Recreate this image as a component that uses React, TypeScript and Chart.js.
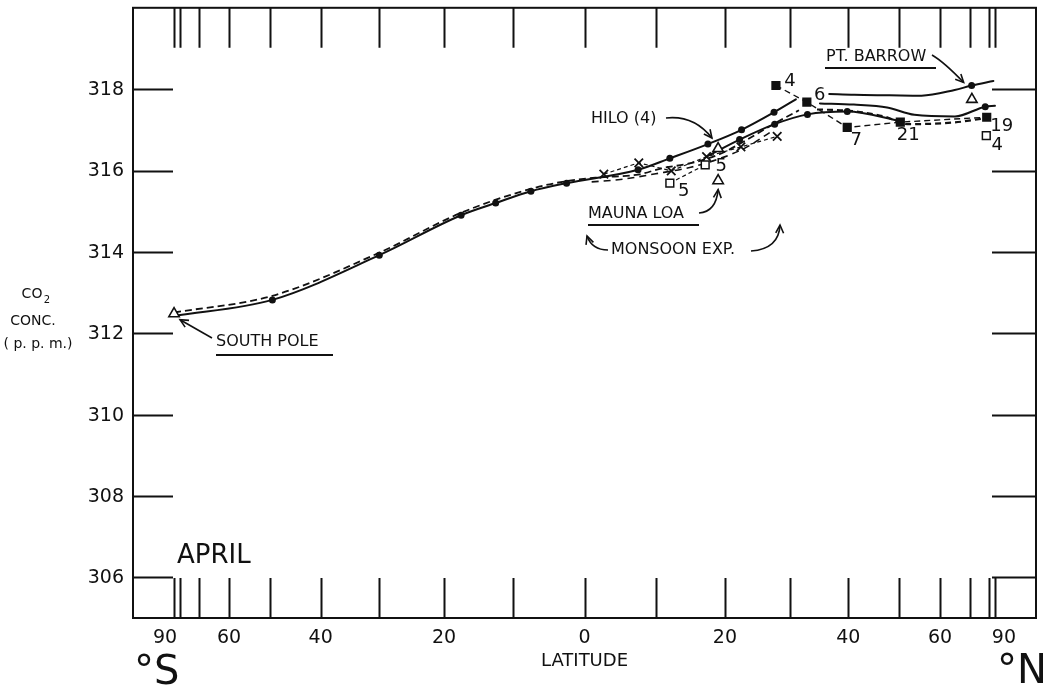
import React, { useEffect, useRef } from "react";
import { Chart, registerables } from "chart.js";

Chart.register(...registerables);

const FONT = '"DejaVu Sans", "Liberation Sans", sans-serif';
const INK = "#111";

// Latitude in degrees (south negative), CO2 concentration in p.p.m.
// Main meridional profile, South Pole to about 31 N
const profileLat = [-90, -49.5, -30, -17.5, -12.5, -7.5, -2.5, 7.5, 12, 17.5, 22.5, 27.5, 31];
const profileCO2 = [312.43, 312.82, 313.92, 314.9, 315.2, 315.49, 315.69, 316.02, 316.3, 316.65, 317.0, 317.43, 317.75];
const profileDot = [0, 1, 1, 1, 1, 1, 1, 1, 1, 1, 1, 1, 0];

// Its continuation over the northern mid and high latitudes
const northLat = [35, 41, 47.5, 53.5, 64.5, 77.5, 90];
const northCO2 = [317.65, 317.62, 317.55, 317.37, 317.33, 317.57, 317.59];
const northDot = [0, 0, 0, 0, 0, 1, 0];

// Lower solid profile, northern subtropics
const lowerLat = [17.4, 22.2, 27.6, 32.9, 39.8, 50.5];
const lowerCO2 = [316.35, 316.76, 317.14, 317.38, 317.45, 317.21];
const lowerDot = [0, 1, 1, 1, 1, 0];

// Pt. Barrow curve
const barrowLat = [36.6, 41.1, 48, 55.2, 64.4, 70.6, 85];
const barrowCO2 = [317.88, 317.86, 317.85, 317.84, 317.98, 318.09, 318.2];
const barrowDot = [0, 0, 0, 0, 0, 1, 0];

// Dashed ship profile (southern part and its two northern pieces)
const shipLat = [-90, -49.5, -30, -17.5, -7.5, -2.5, 2, 7.5, 11, 15, 19.2, 22.7, 27.5, 31.5];
const shipCO2 = [312.51, 312.92, 313.98, 314.96, 315.55, 315.74, 315.83, 315.9, 316.06, 316.18, 316.4, 316.7, 317.15, 317.48];
const ship2Lat = [1, 5, 10, 15, 19, 23, 27];
const ship2CO2 = [315.72, 315.78, 315.92, 316.08, 316.28, 316.55, 316.95];
const shipNorthLat = [34.5, 40, 46.9, 51.8, 64, 75.2];
const shipNorthCO2 = [317.5, 317.47, 317.33, 317.14, 317.18, 317.27];

// Monsoon expedition (crosses)
const monsoonLat = [2.7, 7.6, 12.2, 17.3, 22.4, 28.0];
const monsoonCO2 = [315.91, 316.19, 315.99, 316.34, 316.58, 316.84];

// Open squares with sample counts
const openSqLat = [12.0, 17.1, null, 78.2];
const openSqCO2 = [315.69, 316.14, null, 316.86];
const openSqN = ["5", "5", "", "4"];

// Filled squares with sample counts
const fillSqLat = [27.8, 32.8, 39.8, 50.3, 78.5];
const fillSqCO2 = [318.09, 317.68, 317.06, 317.19, 317.31];
const fillSqN = ["4", "6", "7", "21", "19"];

// Station values: South Pole, Hilo, Mauna Loa, Pt. Barrow
const stationLat = [-90, 19, 19, 70.7];
const stationCO2 = [312.48, 316.54, 315.75, 317.75];

const yTicks = [306, 308, 310, 312, 314, 316, 318];
const latTicks = [-90, -80, -70, -60, -50, -40, -30, -20, -10, 0, 10, 20, 30, 40, 50, 60, 70, 80, 90];
const latLabels = [-90, -60, -40, -20, 0, 20, 40, 60, 90];

const sinLat = (d: number) => Math.sin((d * Math.PI) / 180);
const toPoints = (lats: (number | null)[], vals: (number | null)[]) =>
  lats.map((l, i) => ({ x: l == null ? null : sinLat(l), y: vals[i] })) as any[];

function arrowHead(ctx: CanvasRenderingContext2D, fx: number, fy: number, x: number, y: number) {
  const a = Math.atan2(y - fy, x - fx);
  const L = 9;
  const s = 0.45;
  ctx.beginPath();
  ctx.moveTo(x - L * Math.cos(a - s), y - L * Math.sin(a - s));
  ctx.lineTo(x, y);
  ctx.lineTo(x - L * Math.cos(a + s), y - L * Math.sin(a + s));
  ctx.stroke();
}

function curvedArrow(ctx: CanvasRenderingContext2D, x0: number, y0: number, cx: number, cy: number, x1: number, y1: number) {
  ctx.beginPath();
  ctx.moveTo(x0, y0);
  ctx.quadraticCurveTo(cx, cy, x1, y1);
  ctx.stroke();
  arrowHead(ctx, cx, cy, x1, y1);
}

const framePlugin = {
  id: "frame",
  beforeDatasetsDraw(chart: any) {
    const { ctx, chartArea: a, scales } = chart;
    const xs = scales.x;
    const ys = scales.y;
    ctx.save();
    ctx.strokeStyle = INK;
    ctx.lineWidth = 2;
    ctx.strokeRect(a.left, a.top, a.right - a.left, a.bottom - a.top);
    const T = 40;
    ctx.beginPath();
    for (const v of yTicks) {
      const y = Math.round(ys.getPixelForValue(v)) + 0.5;
      ctx.moveTo(a.left, y);
      ctx.lineTo(a.left + T, y);
      ctx.moveTo(a.right - T - 4, y);
      ctx.lineTo(a.right, y);
    }
    for (const d of latTicks) {
      const x = Math.round(xs.getPixelForValue(sinLat(d))) + 0.5;
      ctx.moveTo(x, a.top);
      ctx.lineTo(x, a.top + T);
      ctx.moveTo(x, a.bottom - T);
      ctx.lineTo(x, a.bottom);
    }
    ctx.stroke();
    ctx.restore();
  },
  afterDraw(chart: any) {
    const { ctx, chartArea: a, scales } = chart;
    const xs = scales.x;
    const ys = scales.y;
    const px = (lat: number) => xs.getPixelForValue(sinLat(lat));
    const py = (v: number) => ys.getPixelForValue(v);
    ctx.save();
    ctx.fillStyle = INK;
    ctx.strokeStyle = INK;

    // y tick labels
    ctx.font = `19px ${FONT}`;
    ctx.textAlign = "right";
    ctx.textBaseline = "middle";
    for (const v of yTicks) ctx.fillText(String(v), a.left - 9, py(v) + 1);

    // latitude labels
    ctx.textAlign = "center";
    for (const d of latLabels) {
      const shift = d === -90 ? -9 : d === 90 ? 9 : 0;
      ctx.fillText(String(Math.abs(d)), px(d) + shift, a.bottom + 20);
    }
    ctx.font = `18px ${FONT}`;
    ctx.fillText("LATITUDE", px(0), a.bottom + 43);
    ctx.font = `40px ${FONT}`;
    ctx.textAlign = "left";
    ctx.fillText("°S", 134, a.bottom + 56);
    ctx.textAlign = "right";
    ctx.fillText("°N", 1047, a.bottom + 55);

    // y title
    ctx.textAlign = "center";
    ctx.font = `14px ${FONT}`;
    ctx.fillText("CO", 32, 294);
    ctx.font = `10px ${FONT}`;
    ctx.fillText("2", 47, 300);
    ctx.font = `14px ${FONT}`;
    ctx.fillText("CONC.", 33, 321);
    ctx.fillText("( p. p. m.)", 38, 344);

    // month
    ctx.font = `26px ${FONT}`;
    ctx.textAlign = "left";
    ctx.fillText("APRIL", 177, 556);

    // sample counts beside squares
    ctx.font = `18px ${FONT}`;
    ctx.textAlign = "center";
    const fillOff = [[14, -4], [13, -7], [9, 13], [8, 13], [15, 9]];
    fillSqLat.forEach((l, i) => {
      ctx.fillText(fillSqN[i], px(l) + fillOff[i][0], py(fillSqCO2[i]) + fillOff[i][1]);
    });
    const openOff = [[14, 8], [16, 2], [0, 0], [11, 10]];
    openSqLat.forEach((l, i) => {
      if (l == null) return;
      ctx.fillText(openSqN[i], px(l) + openOff[i][0], py(openSqCO2[i] as number) + openOff[i][1]);
    });

    // station annotations
    ctx.font = `16px ${FONT}`;
    ctx.textAlign = "left";
    ctx.lineWidth = 1.6;
    // South Pole
    ctx.fillText("SOUTH POLE", 216, 342);
    ctx.fillRect(216, 354, 117, 2);
    ctx.beginPath();
    ctx.moveTo(212, 338);
    ctx.lineTo(px(-90) + 6, py(312.48) + 6);
    ctx.stroke();
    arrowHead(ctx, 212, 338, px(-90) + 6, py(312.48) + 6);
    // Hilo
    ctx.fillText("HILO (4)", 591, 119);
    curvedArrow(ctx, 666, 118, 694, 115, px(17.5) + 4, py(316.65) - 6);
    // Mauna Loa
    ctx.fillText("MAUNA LOA", 588, 214);
    ctx.fillRect(588, 224, 111, 2);
    curvedArrow(ctx, 699, 213, 716, 212, px(19), py(315.75) + 9);
    // Monsoon expedition
    ctx.fillText("MONSOON EXP.", 611, 250);
    curvedArrow(ctx, 608, 250, 592, 250, 587, 236);
    curvedArrow(ctx, 751, 251, 779, 249, 780, 225);
    // Pt. Barrow
    ctx.fillText("PT. BARROW", 826, 57);
    ctx.fillRect(825, 67, 111, 2);
    curvedArrow(ctx, 932, 55, 944, 62, px(70.6) - 8, py(318.09) - 3);
    ctx.restore();
  },
};

export default function App() {
  const ref = useRef<HTMLCanvasElement>(null);

  useEffect(() => {
    const canvas = ref.current;
    if (!canvas) return;
    document.body.style.margin = "0";

    const dots = (flags: number[], r: number) => flags.map((f) => (f ? r : 0));
    const solid = (data: any[], radii: number[], order: number) => ({
      data,
      borderColor: INK,
      backgroundColor: INK,
      borderWidth: 2,
      pointRadius: radii,
      pointBorderWidth: 0,
      pointBackgroundColor: INK,
      pointStyle: "circle",
      cubicInterpolationMode: "monotone",
      borderCapStyle: "round",
      order,
    });
    const dashed = (data: any[], dash: number[], width: number, order: number) => ({
      data,
      borderColor: INK,
      borderWidth: width,
      borderDash: dash,
      pointRadius: 0,
      cubicInterpolationMode: "monotone",
      order,
    });

    const chart = new Chart(canvas, {
      type: "line",
      data: {
        datasets: [
          {
            data: toPoints(stationLat, stationCO2),
            showLine: false,
            pointStyle: "triangle",
            pointRadius: 6,
            pointBorderWidth: 1.6,
            pointBorderColor: INK,
            pointBackgroundColor: "#fff",
            order: 0,
          },
          {
            data: toPoints(fillSqLat, fillSqCO2),
            borderColor: INK,
            borderWidth: 1.4,
            borderDash: [6, 4],
            tension: 0,
            pointStyle: "rect",
            pointRadius: 6.5,
            pointBorderWidth: 0,
            pointBackgroundColor: INK,
            order: 0,
          },
          {
            data: toPoints(openSqLat, openSqCO2),
            borderColor: INK,
            borderWidth: 1.2,
            borderDash: [4, 3],
            tension: 0,
            spanGaps: false,
            pointStyle: "rect",
            pointRadius: 5.5,
            pointBorderWidth: 1.5,
            pointBorderColor: INK,
            pointBackgroundColor: "#fff",
            order: 0,
          },
          {
            data: toPoints(monsoonLat, monsoonCO2),
            borderColor: INK,
            borderWidth: 1.2,
            borderDash: [4, 3],
            tension: 0,
            pointStyle: "crossRot",
            pointRadius: 6,
            pointBorderWidth: 1.8,
            pointBorderColor: INK,
            order: 0,
          },
          solid(toPoints(profileLat, profileCO2), dots(profileDot, 3.5), 1),
          solid(toPoints(northLat, northCO2), dots(northDot, 3.5), 1),
          solid(toPoints(lowerLat, lowerCO2), dots(lowerDot, 3.5), 1),
          solid(toPoints(barrowLat, barrowCO2), dots(barrowDot, 3.5), 1),
          dashed(toPoints(shipLat, shipCO2), [7, 4], 1.8, 2),
          dashed(toPoints(ship2Lat, ship2CO2), [7, 5], 1.6, 2),
          dashed(toPoints(shipNorthLat, shipNorthCO2), [6, 4], 2.2, 2),
        ] as any,
      },
      options: {
        responsive: false,
        animation: false,
        events: [],
        layout: { padding: { left: 133, right: 13, top: 6, bottom: 74 } },
        scales: {
          x: { type: "linear", min: -1.1, max: 1.1, display: false },
          y: { type: "linear", min: 305, max: 320, display: false },
        },
        plugins: { legend: { display: false }, tooltip: { enabled: false } },
      },
      plugins: [framePlugin],
    });
    return () => chart.destroy();
  }, []);

  return (
    <div style={{ position: "fixed", left: 0, top: 0, width: 1049, height: 692, background: "#fff" }}>
      <canvas ref={ref} width={1049} height={692} style={{ display: "block", width: 1049, height: 692 }} />
    </div>
  );
}
